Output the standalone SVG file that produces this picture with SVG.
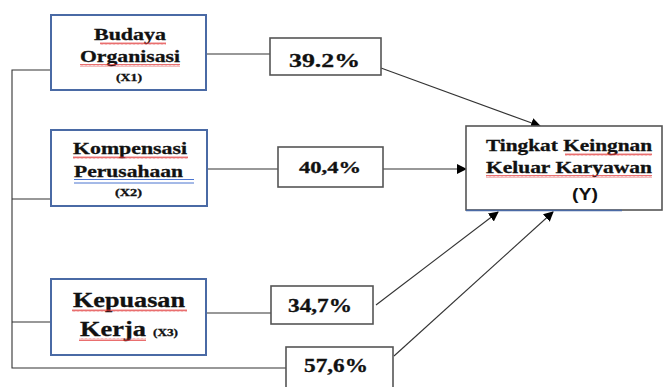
<svg xmlns="http://www.w3.org/2000/svg" width="665" height="387" viewBox="0 0 665 387">
<defs>
<marker id="ah" markerWidth="10" markerHeight="10" refX="9" refY="5" orient="auto" markerUnits="userSpaceOnUse">
<path d="M0,0 L10,5 L0,10 Z" fill="#000"/>
</marker>
<pattern id="sq" width="4" height="3" patternUnits="userSpaceOnUse">
<path d="M0,2.5 L1,0.5 L2,2.5 L3,0.5 L4,2.5" fill="none" stroke="#e03030" stroke-width="0.7"/>
</pattern>
</defs>
<style>
.var{fill:#fff;stroke:#4a6aa5;stroke-width:2}
.pct{fill:#fff;stroke:#555;stroke-width:1.6}
.ln{fill:none;stroke:#333;stroke-width:1.1}
.t{font-family:"Liberation Serif","Times New Roman",serif;font-weight:bold;fill:#111;stroke:#111;stroke-width:0.3}
.s{font-family:"Liberation Sans",Arial,sans-serif;font-weight:bold;fill:#111}
.sq{fill:url(#sq)}
</style>
<rect width="665" height="387" fill="#fff"/>
<g id="connectors">
<path class="ln" d="M51,70 H12 V368 H286"/>
<path class="ln" d="M12,199 H51"/>
<path class="ln" d="M12,322 H51"/>
<path class="ln" d="M206,54 H270"/>
<path class="ln" d="M207,169 H278"/>
<path class="ln" d="M206,313 H271"/>
<path class="ln" d="M381,68 L540,126" marker-end="url(#ah)"/>
<path class="ln" d="M383,169 L466,169" marker-end="url(#ah)"/>
<path class="ln" d="M376,305 L498,212" marker-end="url(#ah)"/>
<path class="ln" d="M394,356 L553,212" marker-end="url(#ah)"/>
</g>
<g id="x1">
<rect class="var" x="51" y="15" width="155" height="75"/>
<text class="t" x="94" y="40" font-size="17.5" textLength="72" lengthAdjust="spacingAndGlyphs">Budaya</text>
<text class="t" x="80" y="62" font-size="17.5" textLength="100" lengthAdjust="spacingAndGlyphs">Organisasi</text>
<rect class="sq" x="100" y="42" width="66" height="3"/>
<rect class="sq" x="80" y="64" width="100" height="3"/>
<text class="t" x="116" y="81" font-size="10" textLength="26" lengthAdjust="spacingAndGlyphs">(X1)</text>
</g>
<g id="x2">
<rect class="var" x="51" y="130" width="156" height="76"/>
<text class="t" x="73" y="154" font-size="17.5" textLength="114" lengthAdjust="spacingAndGlyphs">Kompensasi</text>
<text class="t" x="74" y="177" font-size="17.5" textLength="109" lengthAdjust="spacingAndGlyphs">Perusahaan</text>
<rect class="sq" x="73" y="156" width="115" height="3"/>
<path d="M74,179.5 H194 M74,183 H194" stroke="#4a74d0" stroke-width="1" fill="none"/>
<text class="t" x="115" y="196" font-size="10" textLength="27" lengthAdjust="spacingAndGlyphs">(X2)</text>
</g>
<g id="x3">
<rect class="var" x="51" y="279" width="155" height="76"/>
<text class="t" x="73" y="307" font-size="22" textLength="112" lengthAdjust="spacingAndGlyphs">Kepuasan</text>
<text class="t" x="80" y="336" font-size="22" textLength="66" lengthAdjust="spacingAndGlyphs">Kerja</text>
<text class="t" x="153" y="336" font-size="10.5" textLength="25" lengthAdjust="spacingAndGlyphs">(X3)</text>
<rect class="sq" x="72" y="309" width="115" height="3"/>
<rect class="sq" x="79" y="338" width="67" height="3"/>
</g>
<g id="p1">
<rect class="pct" x="270" y="38" width="111" height="37"/>
<text class="t" x="289" y="67" font-size="19.5" textLength="71" lengthAdjust="spacingAndGlyphs">39.2%</text>
</g>
<g id="p2">
<rect class="pct" x="278" y="147" width="105" height="40"/>
<text class="t" x="299" y="173" font-size="17" textLength="62" lengthAdjust="spacingAndGlyphs">40,4%</text>
</g>
<g id="p3">
<rect class="pct" x="271" y="286" width="102" height="38"/>
<text class="t" x="288" y="312" font-size="18" textLength="64" lengthAdjust="spacingAndGlyphs">34,7%</text>
</g>
<g id="p4">
<rect class="pct" x="286" y="347" width="107" height="50"/>
<text class="t" x="304" y="372" font-size="18" textLength="64" lengthAdjust="spacingAndGlyphs">57,6%</text>
</g>
<g id="y">
<rect x="466" y="126" width="196" height="84" fill="#fff" stroke="#555" stroke-width="1.6"/>
<path d="M466,210.5 H622" stroke="#4a6aa5" stroke-width="1.6"/>
<text class="t" x="486" y="151" font-size="16.5" textLength="166" lengthAdjust="spacingAndGlyphs">Tingkat Keingnan</text>
<text class="t" x="486" y="173" font-size="16.5" textLength="166" lengthAdjust="spacingAndGlyphs">Keluar Karyawan</text>
<rect class="sq" x="565" y="153" width="87" height="3"/>
<rect class="sq" x="486" y="175" width="166" height="3"/>
<text class="s" x="572" y="200" font-size="16" textLength="26" lengthAdjust="spacingAndGlyphs">(Y)</text>
</g>
</svg>
